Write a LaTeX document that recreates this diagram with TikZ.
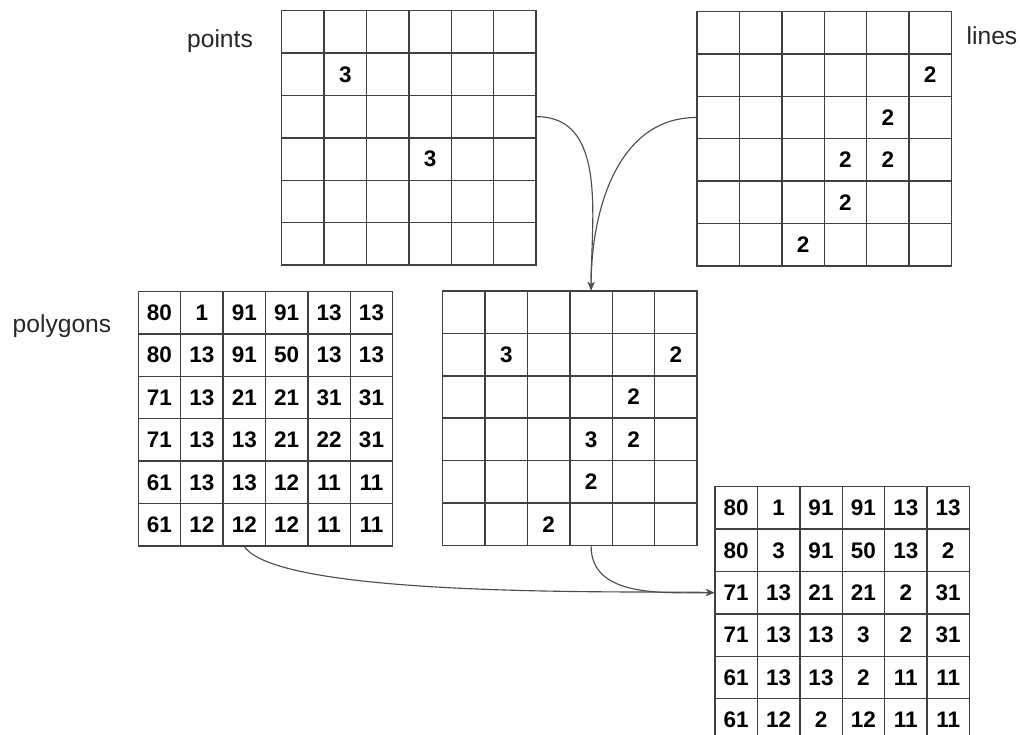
\documentclass[tikz,border=0pt]{standalone}
\usepackage{fontspec}
\setmainfont{Liberation Sans}
\usepackage{tikz}
\usetikzlibrary{arrows.meta, positioning}

\tikzset{
  cell/.style={draw=black!75, line width=1pt, minimum size=1.06cm, inner sep=0pt, font=\fontsize{16}{18}\selectfont\bfseries},
  title/.style={font=\fontsize{17.5}{20}\selectfont, text=black!85, anchor=base},
  link/.style={draw=black!70, line width=0.8pt, -{Stealth[length=6pt, width=5pt]}},
}

\newcommand{\cellgrid}[4]{%
  \foreach \row [count=\r] in {#4} {
    \foreach \val [count=\c] in \row {
      \node[cell] (#1-\r-\c) at ({#2+(\c-0.5)*42.4},{#3+(\r-0.5)*42.4}) {\val};
    }
  }%
}

\begin{document}
\begin{tikzpicture}[x=0.025cm, y=-0.025cm]
          \useasboundingbox (0,0) rectangle (1020,735);

          \cellgrid{pts}{281.7}{10.7}{{,,,,,},{,3,,,,},{,,,,,},{,,,3,,},{,,,,,},{,,,,,}}
          \cellgrid{lns}{697}{11.5}{{,,,,,},{,,,,,2},{,,,,2,},{,,,2,2,},{,,,2,,},{,,2,,,}}
          \cellgrid{pol}{138.3}{291.5}{{80,1,91,91,13,13},{80,13,91,50,13,13},{71,13,21,21,31,31},{71,13,13,21,22,31},{61,13,13,12,11,11},{61,12,12,12,11,11}}
          \cellgrid{cmb}{442.7}{291}{{,,,,,},{,3,,,,2},{,,,,2,},{,,,3,2,},{,,,2,,},{,,2,,,}}
          \cellgrid{res}{715}{486.7}{{80,1,91,91,13,13},{80,3,91,50,13,2},{71,13,21,21,2,31},{71,13,13,3,2,31},{61,13,13,2,11,11},{61,12,2,12,11,11}}

          \node[title] (ptslabel) at (220,47.5) {points};
          \node[title] (lnslabel) at (992,44.3) {lines};
          \node[title] (pollabel) at (62,332) {polygons};

          \draw[link] (pts-3-6.east) to[out=0, in=90] (cmb-1-4.north);
          \draw[link] (lns-3-1.west) to[out=180, in=90] (cmb-1-4.north);
          \draw[link] (pol-6-3.south) to[out=-55, in=178, looseness=0.35] (res-3-1.west);
          \draw[link] (cmb-6-4.south) to[out=-90, in=180] (res-3-1.west);
        \end{tikzpicture}
\end{document}
